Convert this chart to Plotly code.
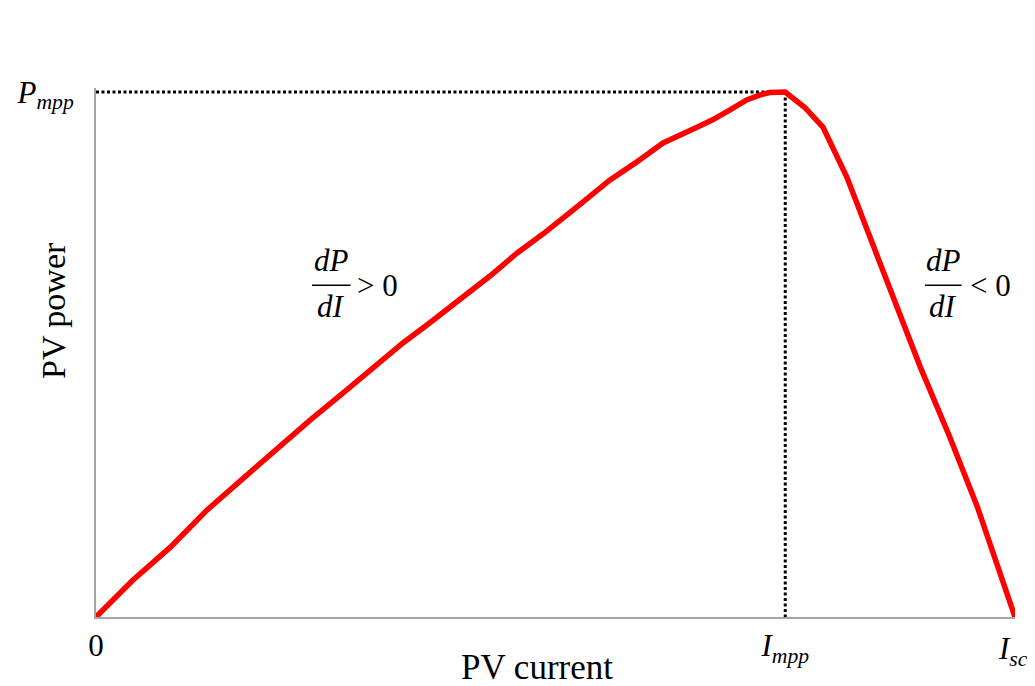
import plotly.graph_objects as go

# Normalized PV curve (I / Isc, P / Pmpp)
current = [0.0, 0.040, 0.081, 0.121, 0.162, 0.203, 0.233, 0.269, 0.301, 0.334,
           0.363, 0.396, 0.429, 0.458, 0.489, 0.519, 0.559, 0.587, 0.617, 0.654,
           0.671, 0.690, 0.708, 0.722, 0.733, 0.750, 0.771, 0.791, 0.817, 0.856,
           0.897, 0.929, 0.959, 1.0]
power = [0.0, 0.070, 0.133, 0.204, 0.267, 0.331, 0.375, 0.427, 0.474, 0.522,
         0.560, 0.604, 0.650, 0.693, 0.733, 0.775, 0.832, 0.865, 0.903, 0.933,
         0.947, 0.966, 0.985, 0.994, 0.999, 1.0, 0.971, 0.933, 0.838, 0.661,
         0.476, 0.343, 0.210, 0.0]

I_mpp = 0.75
I_sc = 1.0
P_mpp = 1.0

x_tickvals = [0, I_mpp]
x_ticktext = ["0", "<i>I</i><sub><i>mpp</i></sub>"]
isc_label = "<i>I</i><sub><i>sc</i></sub>"
y_tickvals = [P_mpp]
y_ticktext = ["<i>P</i><sub><i>mpp</i></sub>"]

SERIF = "Liberation Serif, Times New Roman, serif"

# page offset of the figure (browser body margin)
OFF = 8
PL, PR, PT, PB = 96, 1015, 92, 617      # data frame (0..1) in page pixels
EXTRA_TOP = 4                           # headroom so lines at P_mpp aren't clipped
W, H = 1035 - OFF, 686 - OFF
y_top = P_mpp * (1 + EXTRA_TOP / (PB - PT))


def px_to_paper(px, py):
    return (px - PL) / (PR - PL), (PB - py) / (PB - PT + EXTRA_TOP)


fig = go.Figure()

dot = dict(color="black", width=3, dash="3px,2.5px")
fig.add_trace(go.Scatter(x=[0, I_mpp], y=[P_mpp, P_mpp], mode="lines", line=dot,
                         cliponaxis=False, showlegend=False, hoverinfo="skip"))
fig.add_trace(go.Scatter(x=[I_mpp, I_mpp], y=[P_mpp, 0], mode="lines", line=dot,
                         cliponaxis=False, showlegend=False, hoverinfo="skip"))

fig.add_trace(go.Scatter(x=current, y=power, mode="lines",
                         line=dict(color="#FF0000", width=5.5),
                         cliponaxis=False, showlegend=False))

math_font = dict(family=SERIF, size=31, color="black")


def fraction(xc, y_t, y_bar, y_bot, half_w, rel, rel_x):
    fig.add_annotation(x=xc, y=y_t, xref="x", yref="y", text="<i>dP</i>",
                       showarrow=False, font=math_font, xanchor="center", yanchor="middle")
    fig.add_annotation(x=xc, y=y_bot, xref="x", yref="y", text="<i>dI</i>",
                       showarrow=False, font=math_font, xanchor="center", yanchor="middle")
    fig.add_shape(type="line", xref="x", yref="y", x0=xc - half_w, x1=xc + half_w,
                  y0=y_bar, y1=y_bar, line=dict(color="black", width=1.5))
    fig.add_annotation(x=rel_x, y=y_bar, xref="x", yref="y", text=rel,
                       showarrow=False, font=math_font, xanchor="left", yanchor="middle")


fraction(0.719, 1.138, 1.091, 1.050, 0.020, "= 0", 0.748)
fraction(0.256, 0.679, 0.632, 0.592, 0.021, "&gt; 0", 0.282)
fraction(0.922, 0.679, 0.632, 0.592, 0.020, "&lt; 0", 0.949)

fig.update_layout(
    width=W, height=H,
    margin=dict(l=PL - OFF, r=W - (PR - OFF), t=PT - OFF - EXTRA_TOP,
                b=H - (PB - OFF), autoexpand=False),
    paper_bgcolor="white", plot_bgcolor="white",
    font=dict(family=SERIF, color="black"),
    xaxis=dict(range=[0, 1], showgrid=False, zeroline=False, automargin=False,
               showline=True, linecolor="#A6A6A6", linewidth=2,
               tickmode="array", tickvals=x_tickvals, ticktext=x_ticktext,
               ticks="", tickfont=dict(family=SERIF, size=31, color="black"),
               fixedrange=True),
    yaxis=dict(range=[0, y_top], showgrid=False, zeroline=False, automargin=False,
               showline=True, linecolor="#A6A6A6", linewidth=2,
               tickmode="array", tickvals=y_tickvals, ticktext=y_ticktext,
               ticks="", ticklabelstandoff=14,
               tickfont=dict(family=SERIF, size=31, color="black"),
               fixedrange=True),
)

# I_sc tick label, right-aligned so it stays inside the window
fig.add_annotation(x=I_sc, y=0, xref="x", yref="y", text=isc_label,
                   showarrow=False, xanchor="right", yanchor="top",
                   xshift=15, yshift=-12,
                   font=dict(family=SERIF, size=31, color="black"))

xc, yc = px_to_paper(537, 667)
fig.add_annotation(x=xc, y=yc, xref="paper", yref="paper", text="PV current",
                   showarrow=False, font=dict(family=SERIF, size=35, color="black"),
                   xanchor="center", yanchor="middle")
xc, yc = px_to_paper(53, 311)
fig.add_annotation(x=xc, y=yc, xref="paper", yref="paper",
                   text="PV power", showarrow=False, textangle=-90,
                   font=dict(family=SERIF, size=34, color="black"),
                   xanchor="center", yanchor="middle")

fig.write_html("out.html")
